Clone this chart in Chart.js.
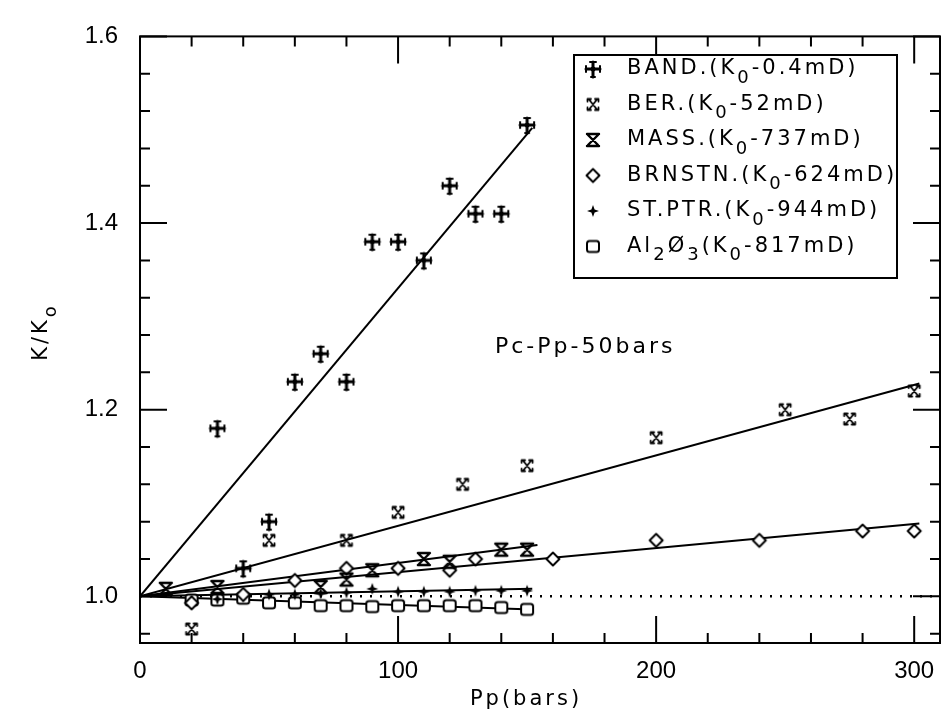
<!DOCTYPE html>
<html>
<head>
<meta charset="utf-8">
<title>K/Ko vs Pp</title>
<script src="https://cdn.jsdelivr.net/npm/chart.js@4.4.1/dist/chart.umd.min.js"></script>
<style>
  html, body { margin: 0; padding: 0; background: #fff; }
  #wrap { width: 949px; height: 718px; }
</style>
</head>
<body>
<div id="wrap"><canvas id="permChart" width="949" height="718"></canvas></div>
<script>
// --- Measured points (Pp in bars, K/Ko) ---
const bandX = [30, 40, 50, 60, 70, 80, 90, 100, 110, 120, 130, 140, 150];
const bandY = [1.18, 1.03, 1.08, 1.23, 1.26, 1.23, 1.38, 1.38, 1.36, 1.44, 1.41, 1.41, 1.505];

const berX = [20, 50, 80, 100, 125, 150, 200, 250, 275, 300];
const berY = [0.965, 1.06, 1.06, 1.09, 1.12, 1.14, 1.17, 1.20, 1.19, 1.22];

const massX = [10, 30, 70, 80, 90, 110, 120, 140, 150];
const massY = [1.008, 1.01, 1.01, 1.018, 1.028, 1.04, 1.037, 1.05, 1.05];

const brnX = [20, 40, 60, 80, 100, 120, 130, 160, 200, 240, 280, 300];
const brnY = [0.993, 1.002, 1.017, 1.03, 1.03, 1.028, 1.04, 1.04, 1.06, 1.06, 1.07, 1.07];

const stX = [20, 30, 40, 50, 60, 70, 80, 90, 100, 110, 120, 130, 140, 150];
const stY = [0.995, 0.997, 1.0, 1.002, 1.002, 1.003, 1.004, 1.008, 1.005, 1.005, 1.005, 1.006, 1.006, 1.006];

const alX = [20, 30, 40, 50, 60, 70, 80, 90, 100, 110, 120, 130, 140, 150];
const alY = [0.996, 0.996, 0.998, 0.993, 0.993, 0.99, 0.99, 0.989, 0.99, 0.99, 0.99, 0.99, 0.988, 0.986];

// --- Fitted lines (end points) ---
const bandFitX = [0, 152], bandFitY = [1.0, 1.502];
const berFitX = [0, 302], berFitY = [1.0, 1.228];
const massFitX = [0, 154], massFitY = [1.0, 1.055];
const brnFitX = [0, 302], brnFitY = [1.0, 1.078];
const stFitX = [0, 152], stFitY = [1.0, 1.008];
const alFitX = [0, 152], alFitY = [1.0, 0.986];
const refX = [0, 310], refY = [1.0, 1.0];

// --- Axes ---
const xTicks = [0, 100, 200, 300];
const yTicks = [1.0, 1.2, 1.4, 1.6];
const xMinorStep = 20;
const yMinorStep = 0.04;

// --- Legend text: [text, isSubscript] pieces ---
const legendLabels = [
  [['BAND.(K', 0], ['0', 1], ['-0.4mD)', 0]],
  [['BER.(K', 0], ['0', 1], ['-52mD)', 0]],
  [['MASS.(K', 0], ['0', 1], ['-737mD)', 0]],
  [['BRNSTN.(K', 0], ['0', 1], ['-624mD)', 0]],
  [['ST.PTR.(K', 0], ['0', 1], ['-944mD)', 0]],
  [['Al', 0], ['2', 1], ['Ø', 0], ['3', 1], ['(K', 0], ['0', 1], ['-817mD)', 0]]
];
const noteText = 'Pc-Pp-50bars';

const pairs = (xs, ys) => xs.map((x, i) => ({ x: x, y: ys[i] }));

// --- Marker glyphs drawn onto small canvases ---
function makeMarker(draw) {
  const size = 22;
  const c = document.createElement('canvas');
  c.width = size; c.height = size;
  const g = c.getContext('2d');
  g.translate(size / 2, size / 2);
  g.strokeStyle = '#000';
  g.fillStyle = '#000';
  g.lineCap = 'round';
  g.lineJoin = 'round';
  draw(g);
  return c;
}

const bandMark = makeMarker(g => {
  g.lineWidth = 3;
  g.beginPath();
  g.moveTo(0, -7); g.lineTo(0, 8);
  g.moveTo(-7, 0); g.lineTo(7, 0);
  g.stroke();
  g.lineWidth = 2;
  g.beginPath();
  g.moveTo(-3, -7); g.lineTo(3, -7);
  g.moveTo(-7, -3); g.lineTo(-7, 3);
  g.moveTo(7, -3); g.lineTo(7, 3);
  g.moveTo(-2, 8); g.lineTo(2, 8);
  g.stroke();
  g.beginPath(); g.arc(0, 0, 2.5, 0, Math.PI * 2); g.fill();
});

// open "bow-tie" cross with broken caps
const berMark = makeMarker(g => {
  g.lineWidth = 1.8;
  g.beginPath();
  g.moveTo(-4, -5); g.lineTo(4, 5);
  g.moveTo(4, -5); g.lineTo(-4, 5);
  g.moveTo(-5.5, -5.5); g.lineTo(-2, -5.5);
  g.moveTo(2, -5.5); g.lineTo(5.5, -5.5);
  g.moveTo(-5.5, 5.5); g.lineTo(-2, 5.5);
  g.moveTo(2, 5.5); g.lineTo(5.5, 5.5);
  g.moveTo(-5.5, -5.5); g.lineTo(-5.5, -3);
  g.moveTo(5.5, -5.5); g.lineTo(5.5, -3);
  g.moveTo(-5.5, 5.5); g.lineTo(-5.5, 3);
  g.moveTo(5.5, 5.5); g.lineTo(5.5, 3);
  g.stroke();
});

const massMark = makeMarker(g => {
  g.lineWidth = 2.4;
  g.beginPath();
  g.moveTo(-5, -5); g.lineTo(5, 5);
  g.moveTo(5, -5); g.lineTo(-5, 5);
  g.moveTo(-6, -6); g.lineTo(6, -6);
  g.moveTo(-6, 6); g.lineTo(6, 6);
  g.stroke();
});

const brnMark = makeMarker(g => {
  g.lineWidth = 2;
  g.fillStyle = '#fff';
  g.beginPath();
  g.moveTo(0, -6.5); g.lineTo(6.5, 0); g.lineTo(0, 6.5); g.lineTo(-6.5, 0);
  g.closePath();
  g.fill(); g.stroke();
});

const stMark = makeMarker(g => {
  g.beginPath();
  g.moveTo(0, -6); g.lineTo(1.6, -1.6); g.lineTo(6, 0); g.lineTo(1.6, 1.6);
  g.lineTo(0, 6); g.lineTo(-1.6, 1.6); g.lineTo(-6, 0); g.lineTo(-1.6, -1.6);
  g.closePath();
  g.fill();
});

const alMark = makeMarker(g => {
  g.lineWidth = 2;
  g.fillStyle = '#fff';
  g.beginPath();
  g.roundRect(-6, -5.5, 12, 11, 2.5);
  g.fill(); g.stroke();
});

const legendMarks = [bandMark, berMark, massMark, brnMark, stMark, alMark];

function pointSet(label, xs, ys, mark) {
  return {
    label: label,
    data: pairs(xs, ys),
    showLine: false,
    pointStyle: mark,
    pointRadius: 8,
    borderColor: '#000',
    backgroundColor: '#000'
  };
}

function lineSet(label, xs, ys, extra) {
  return Object.assign({
    label: label,
    data: pairs(xs, ys),
    showLine: true,
    pointRadius: 0,
    borderColor: '#000',
    borderWidth: 2,
    tension: 0,
    fill: false
  }, extra || {});
}

// --- Frame, inward ticks, legend box and text ---
const PLOT_FONT = '"DejaVu Sans", sans-serif';

function drawPieces(ctx, pieces, x, y, size) {
  pieces.forEach(p => {
    const sub = p[1] === 1;
    ctx.font = (sub ? Math.round(size * 0.85) : size) + 'px ' + PLOT_FONT;
    ctx.fillText(p[0], x, sub ? y + 9 : y);
    x += ctx.measureText(p[0]).width;
  });
  return x;
}

const framePlugin = {
  id: 'frameTicks',
  afterDatasetsDraw(chart) {
    const ctx = chart.ctx;
    const a = chart.chartArea;
    const xs = chart.scales.x, ys = chart.scales.y;
    ctx.save();
    ctx.strokeStyle = '#000';
    ctx.fillStyle = '#000';
    ctx.lineWidth = 2;
    ctx.strokeRect(a.left, a.top, a.right - a.left, a.bottom - a.top);

    const major = 27, minor = 10;
    ctx.beginPath();
    for (let v = 0; v <= xs.max + 0.001; v += xMinorStep) {
      const len = xTicks.includes(v) ? major : minor;
      const px = xs.getPixelForValue(v);
      ctx.moveTo(px, a.bottom); ctx.lineTo(px, a.bottom - len);
      ctx.moveTo(px, a.top); ctx.lineTo(px, a.top + len);
    }
    for (let k = 0; ; k++) {
      const v = +(0.96 + k * yMinorStep).toFixed(2);
      if (v > ys.max + 0.001) break;
      const len = yTicks.some(t => Math.abs(t - v) < 1e-6) ? major : minor;
      const py = ys.getPixelForValue(v);
      ctx.moveTo(a.left, py); ctx.lineTo(a.left + len, py);
      ctx.moveTo(a.right, py); ctx.lineTo(a.right - len, py);
    }
    ctx.stroke();

    // legend
    const box = { left: 574, top: 55, right: 897, bottom: 278 };
    ctx.fillStyle = '#fff';
    ctx.fillRect(box.left, box.top, box.right - box.left, box.bottom - box.top);
    ctx.strokeRect(box.left, box.top, box.right - box.left, box.bottom - box.top);
    ctx.fillStyle = '#000';
    ctx.textBaseline = 'middle';
    ctx.textAlign = 'left';
    if ('letterSpacing' in ctx) ctx.letterSpacing = '3px';
    legendLabels.forEach((pieces, i) => {
      const rowY = 69 + i * 35.5;
      const m = legendMarks[i];
      ctx.drawImage(m, 593 - m.width / 2, rowY - m.height / 2);
      drawPieces(ctx, pieces, 627, rowY, 21);
    });

    // condition note
    ctx.font = '22px ' + PLOT_FONT;
    ctx.fillText(noteText, 495, 347);

    // axis titles
    ctx.textAlign = 'center';
    ctx.font = '21px ' + PLOT_FONT;
    ctx.fillText('Pp(bars)', 526, 700);
    ctx.save();
    ctx.translate(42, 332);
    ctx.rotate(-Math.PI / 2);
    ctx.textAlign = 'left';
    const w = ctx.measureText('K/K').width + 14;
    drawPieces(ctx, [['K/K', 0], ['o', 1]], -w / 2, 0, 21);
    ctx.restore();
    ctx.restore();
  }
};

const ctx = document.getElementById('permChart').getContext('2d');
const tickFont = { family: '"Liberation Sans", Arial, sans-serif', size: 24 };

new Chart(ctx, {
  type: 'scatter',
  data: {
    datasets: [
      pointSet('BAND.', bandX, bandY, bandMark),
      pointSet('BER.', berX, berY, berMark),
      pointSet('MASS.', massX, massY, massMark),
      pointSet('BRNSTN.', brnX, brnY, brnMark),
      pointSet('ST.PTR.', stX, stY, stMark),
      pointSet('Al2O3', alX, alY, alMark),
      lineSet('BAND. fit', bandFitX, bandFitY),
      lineSet('BER. fit', berFitX, berFitY),
      lineSet('MASS. fit', massFitX, massFitY),
      lineSet('BRNSTN. fit', brnFitX, brnFitY),
      lineSet('ST.PTR. fit', stFitX, stFitY),
      lineSet('Al2O3 fit', alFitX, alFitY),
      lineSet('K/Ko = 1', refX, refY, { borderDash: [2, 8], borderWidth: 2.5 })
    ]
  },
  options: {
    responsive: false,
    animation: false,
    events: [],
    layout: { padding: { top: 21, right: 7, left: 0, bottom: 0 } },
    plugins: { legend: { display: false }, tooltip: { enabled: false } },
    scales: {
      x: {
        type: 'linear',
        min: 0,
        max: 310,
        afterFit: s => { s.height = 75; },
        afterBuildTicks: s => { s.ticks = xTicks.map(v => ({ value: v })); },
        grid: { display: false, drawTicks: false },
        border: { display: false },
        ticks: { padding: 14, color: '#000', font: tickFont, maxRotation: 0, autoSkip: false,
                 callback: v => String(v) }
      },
      y: {
        type: 'linear',
        min: 0.95,
        max: 1.6,
        afterFit: s => { s.width = 140; },
        afterBuildTicks: s => { s.ticks = yTicks.map(v => ({ value: v })); },
        grid: { display: false, drawTicks: false },
        border: { display: false },
        ticks: { padding: 22, color: '#000', font: tickFont, autoSkip: false,
                 callback: v => v.toFixed(1) }
      }
    }
  },
  plugins: [framePlugin]
});
</script>
</body>
</html>
